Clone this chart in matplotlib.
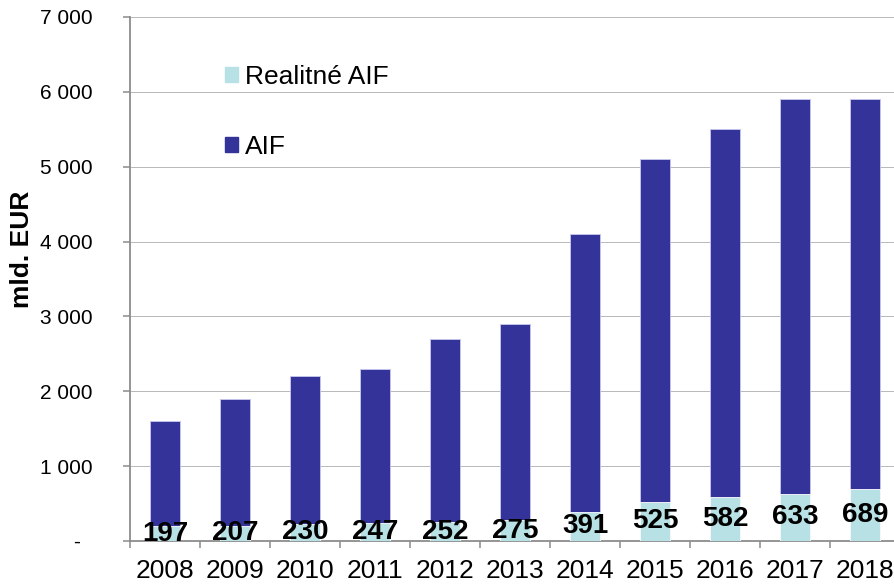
import matplotlib.pyplot as plt
import matplotlib.ticker as mticker
from matplotlib.patches import Patch
import numpy as np

plt.rcParams['font.family'] = ['Liberation Sans', 'DejaVu Sans']

years = ["2008", "2009", "2010", "2011", "2012", "2013", "2014", "2015", "2016", "2017", "2018"]
aif = [1600, 1900, 2200, 2300, 2700, 2900, 4100, 5100, 5500, 5900, 5900]
realitne = [197, 207, 230, 247, 252, 275, 391, 525, 582, 633, 689]

dark = "#333399"
light = "#b7e1e4"
grey = "#8c8c8c"

fig = plt.figure(figsize=(8.95, 5.85), dpi=100)
ax = fig.add_axes([130 / 895, 1 - 541 / 585, 770 / 895, (541 - 17) / 585])

x = np.arange(len(years))
w = 0.42
ax.bar(x, aif, width=w, color=dark, edgecolor="#c8c8ee", linewidth=0.6, zorder=2)
bars = ax.bar(x, realitne, width=w, color=light, edgecolor="white", linewidth=0.6, zorder=3)
ax.bar_label(bars, labels=[str(v) for v in realitne], label_type="center",
             fontsize=20, fontweight="bold", color="black", zorder=4)

ax.set_xlim(-0.5, len(years) - 0.5)
ax.set_ylim(0, 7000)
ax.set_yticks(range(0, 7001, 1000))
ax.yaxis.set_major_formatter(mticker.FuncFormatter(
    lambda v, p: "-  " if v == 0 else f"{int(v):,}".replace(",", " ")))
ax.grid(axis="y", color="#a6a6a6", linewidth=0.55, zorder=0)
ax.set_axisbelow(True)

ax.set_xticks(x)
ax.set_xticklabels(years)
ax.set_xticks(np.arange(-0.5, len(years), 1), minor=True)
ax.tick_params(axis="x", which="major", length=0, pad=13, labelsize=19)
ax.tick_params(axis="x", which="minor", length=5, width=1.1, color=grey, direction="out")
ax.tick_params(axis="y", length=5, width=1.1, color=grey, pad=22, labelsize=15)

for s in ["top", "right"]:
    ax.spines[s].set_visible(False)
for s in ["left", "bottom"]:
    ax.spines[s].set_color(grey)
    ax.spines[s].set_linewidth(1.3)

fig.text(22 / 895, 1 - 249 / 585, "mld. EUR", rotation=90, ha="center", va="center",
         fontsize=19, fontweight="bold")

handles = [Patch(color=light, label="Realitné AIF"), Patch(color=dark, label="AIF")]
fig.legend(handles=handles, loc="center left", bbox_to_anchor=(225 / 895, 1 - 112 / 585),
           frameon=False, fontsize=19, handlelength=0.5, handleheight=0.5,
           handletextpad=0.25, labelspacing=1.75, borderpad=0, borderaxespad=0)

fig.savefig("out.png", dpi=100)
